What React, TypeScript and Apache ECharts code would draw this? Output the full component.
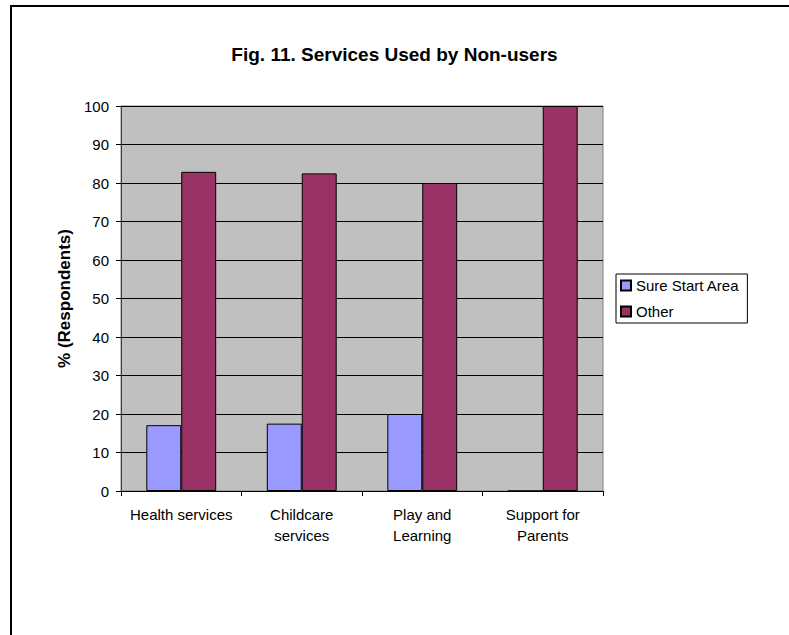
import React, { useEffect, useRef } from "react";
import * as echarts from "echarts";

// Services used by respondents from outside the programme area
const categories = [
  "Health services",
  "Childcare\nservices",
  "Play and\nLearning",
  "Support for\nParents",
];
const sureStartArea = [17.1, 17.5, 20, 0];
const other = [82.9, 82.5, 80, 100];
const yTicks = { min: 0, max: 100, interval: 10 };

const FONT = "'Liberation Sans', Arial, sans-serif";

export default function App() {
  const ref = useRef<HTMLDivElement>(null);

  useEffect(() => {
    if (!ref.current) return;
    const chart = echarts.init(ref.current, undefined, { renderer: "svg" });
    chart.setOption({
      animation: false,
      backgroundColor: "#ffffff",
      textStyle: { fontFamily: FONT, color: "#000" },
      title: {
        text: "Fig. 11. Services Used by Non-users",
        left: "center",
        top: 45,
        padding: 0,
        textStyle: { fontFamily: FONT, fontSize: 19, fontWeight: "bold", color: "#000" },
      },
      graphic: [
        {
          type: "rect",
          shape: { x: 11, y: 6, width: 900, height: 800 },
          style: { fill: "none", stroke: "#000", lineWidth: 2 },
          silent: true,
        },
      ],
      legend: {
        orient: "vertical",
        left: 616,
        top: 274,
        backgroundColor: "#fff",
        borderColor: "#000",
        borderWidth: 1,
        borderRadius: 0,
        padding: [4, 8, 4, 4],
        itemWidth: 10,
        itemHeight: 10,
        itemGap: 11,
        icon: "rect",
        textStyle: { fontFamily: FONT, fontSize: 15, color: "#000" },
        data: ["Sure Start Area", "Other"],
      },
      grid: {
        left: 121,
        top: 106,
        right: 186,
        bottom: 144,
        show: true,
        backgroundColor: "#c0c0c0",
        borderColor: "#808080",
        borderWidth: 1,
      },
      xAxis: {
        type: "category",
        data: categories,
        boundaryGap: true,
        axisLine: { lineStyle: { color: "#000", width: 1 } },
        axisTick: { show: true, length: 5, inside: false, lineStyle: { color: "#000" } },
        axisLabel: {
          fontFamily: FONT,
          fontSize: 15,
          color: "#000",
          lineHeight: 21,
          margin: 13,
          interval: 0,
        },
      },
      yAxis: {
        type: "value",
        min: yTicks.min,
        max: yTicks.max,
        interval: yTicks.interval,
        name: "% (Respondents)",
        nameLocation: "middle",
        nameGap: 48,
        nameRotate: 90,
        nameTextStyle: { fontFamily: FONT, fontSize: 17, fontWeight: "bold", color: "#000" },
        axisLine: { show: true, lineStyle: { color: "#404040", width: 1 } },
        axisTick: { show: true, length: 5, inside: false, lineStyle: { color: "#000" } },
        axisLabel: { fontFamily: FONT, fontSize: 15, color: "#000", margin: 12 },
        splitLine: { show: true, lineStyle: { color: "#000", width: 1 } },
      },
      series: [
        {
          name: "Sure Start Area",
          type: "bar",
          data: sureStartArea,
          barGap: "0%",
          barCategoryGap: "42%",
          itemStyle: { color: "#9999ff", borderColor: "#000", borderWidth: 1 },
        },
        {
          name: "Other",
          type: "bar",
          data: other,
          barGap: "0%",
          barCategoryGap: "42%",
          itemStyle: { color: "#993366", borderColor: "#000", borderWidth: 1 },
        },
      ],
    });
    return () => chart.dispose();
  }, []);

  return (
    <div
      ref={ref}
      style={{ position: "absolute", left: 0, top: 0, width: 789, height: 635 }}
    />
  );
}
